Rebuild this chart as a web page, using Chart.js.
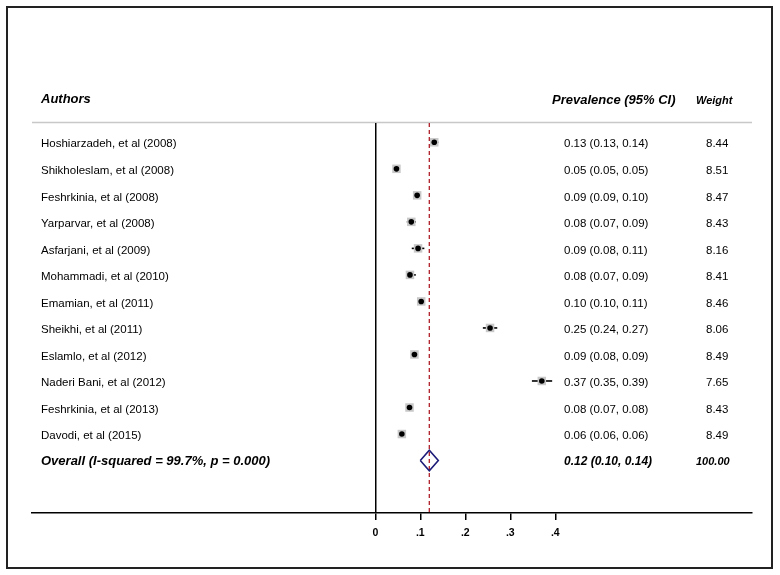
<!DOCTYPE html>
<html>
<head>
<meta charset="utf-8">
<script src="https://cdn.jsdelivr.net/npm/chart.js@4.4.1/dist/chart.umd.min.js"></script>
<style>
  html, body { margin: 0; padding: 0; background: #fff; }
  canvas { display: block; }
</style>
</head>
<body>
<canvas id="forestChart" width="780" height="575"></canvas>
<script>
// studies, top to bottom
const authors = [
    'Hoshiarzadeh, et al (2008)',
    'Shikholeslam, et al (2008)',
    'Feshrkinia, et al (2008)',
    'Yarparvar, et al (2008)',
    'Asfarjani, et al (2009)',
    'Mohammadi, et al (2010)',
    'Emamian, et al (2011)',
    'Sheikhi, et al (2011)',
    'Eslamlo, et al (2012)',
    'Naderi Bani, et al (2012)',
    'Feshrkinia, et al (2013)',
    'Davodi, et al (2015)'
];
const prevalence = [0.131, 0.047, 0.093, 0.080, 0.095, 0.077, 0.102, 0.255, 0.087, 0.370, 0.076, 0.059];
const ciLow = [0.13, 0.05, 0.09, 0.07, 0.081, 0.07, 0.10, 0.239, 0.08, 0.348, 0.07, 0.06];
const ciHigh = [0.14, 0.05, 0.10, 0.09, 0.109, 0.09, 0.11, 0.271, 0.09, 0.393, 0.08, 0.06];
const ciText = [
    '0.13 (0.13, 0.14)', '0.05 (0.05, 0.05)', '0.09 (0.09, 0.10)', '0.08 (0.07, 0.09)',
    '0.09 (0.08, 0.11)', '0.08 (0.07, 0.09)', '0.10 (0.10, 0.11)', '0.25 (0.24, 0.27)',
    '0.09 (0.08, 0.09)', '0.37 (0.35, 0.39)', '0.08 (0.07, 0.08)', '0.06 (0.06, 0.06)'
];
const weights = ['8.44', '8.51', '8.47', '8.43', '8.16', '8.41', '8.46', '8.06', '8.49', '7.65', '8.43', '8.49'];

// pooled estimate
const overallLabel = 'Overall (I-squared = 99.7%, p = 0.000)';
const overallEst = 0.12;
const overallLow = 0.10;
const overallHigh = 0.14;
const overallText = '0.12 (0.10, 0.14)';
const overallWeight = '100.00';

const tickValues = [0, 0.1, 0.2, 0.3, 0.4];

const overallRow = authors.length + 1;
const yMin = 0.272;
const yMax = 14.978;

const studyPoints = prevalence.map((v, i) => ({ x: v, y: i + 1 }));

const ciDatasets = authors.map((a, i) => ({
    type: 'line',
    data: [{ x: ciLow[i], y: i + 1 }, { x: ciHigh[i], y: i + 1 }],
    borderColor: '#000',
    borderWidth: 1.6,
    pointRadius: 0,
    order: 5
}));

const diamond = [
    { x: overallLow, y: overallRow },
    { x: overallEst, y: overallRow - 0.39 },
    { x: overallHigh, y: overallRow },
    { x: overallEst, y: overallRow + 0.39 },
    { x: overallLow, y: overallRow }
];

// text columns, border and header rule
const tablePlugin = {
    id: 'tablePlugin',
    beforeDraw(chart) {
        const ctx = chart.ctx;
        ctx.save();
        ctx.strokeStyle = '#222';
        ctx.lineWidth = 2;
        ctx.strokeRect(7, 7, 765, 561);
        ctx.strokeStyle = '#c8c8c8';
        ctx.lineWidth = 1.5;
        ctx.beginPath();
        ctx.moveTo(32, 122.5);
        ctx.lineTo(752, 122.5);
        ctx.stroke();
        ctx.restore();
    },
    afterDraw(chart) {
        const ctx = chart.ctx;
        const y = chart.scales.y;
        ctx.save();
        ctx.fillStyle = '#000';
        ctx.textBaseline = 'middle';
        ctx.textAlign = 'left';

        ctx.font = 'italic bold 13px "Liberation Sans", Arial, sans-serif';
        ctx.fillText('Authors', 41, 99);
        ctx.fillText('Prevalence (95% CI)', 552, 100);
        ctx.font = 'italic bold 11px "Liberation Sans", Arial, sans-serif';
        ctx.fillText('Weight', 696, 101);

        ctx.font = '11.5px "Liberation Sans", Arial, sans-serif';
        authors.forEach((a, i) => {
            const py = y.getPixelForValue(i + 1) + 2;
            ctx.fillText(a, 41, py);
            ctx.fillText(ciText[i], 564, py);
            ctx.fillText(weights[i], 706, py);
        });

        const oy = y.getPixelForValue(overallRow) + 1;
        ctx.font = 'italic bold 13px "Liberation Sans", Arial, sans-serif';
        ctx.fillText(overallLabel, 41, oy);
        ctx.font = 'italic bold 12px "Liberation Sans", Arial, sans-serif';
        ctx.fillText(overallText, 564, oy);
        ctx.font = 'italic bold 11px "Liberation Sans", Arial, sans-serif';
        ctx.fillText(overallWeight, 696, oy);
        ctx.restore();
    }
};

new Chart(document.getElementById('forestChart'), {
    type: 'scatter',
    data: {
        datasets: [
            {
                data: studyPoints,
                pointStyle: 'circle',
                pointRadius: 2.8,
                backgroundColor: '#000',
                borderWidth: 0,
                order: 1
            },
            {
                data: studyPoints,
                pointStyle: 'rect',
                pointRadius: 6,
                backgroundColor: '#c8c8c8',
                borderWidth: 0,
                order: 3
            },
            ...ciDatasets,
            {
                type: 'line',
                data: diamond,
                borderColor: '#1c1c78',
                borderWidth: 1.6,
                pointRadius: 0,
                tension: 0,
                order: 2
            },
            {
                type: 'line',
                data: [{ x: overallEst, y: yMin }, { x: overallEst, y: yMax }],
                borderColor: '#b0202a',
                borderWidth: 1.3,
                borderDash: [4, 3],
                pointRadius: 0,
                order: 4
            }
        ]
    },
    options: {
        responsive: false,
        animation: false,
        layout: { padding: { left: 32, right: 28, top: 123, bottom: 22 } },
        plugins: {
            legend: { display: false },
            tooltip: { enabled: false }
        },
        scales: {
            x: {
                type: 'linear',
                min: -0.7629,
                max: 0.8371,
                afterBuildTicks: (scale) => {
                    scale.ticks = tickValues.map(v => ({ value: v }));
                },
                afterFit: (scale) => {
                    scale.height = 40;
                },
                grid: {
                    color: (c) => (c.tick && c.tick.value === 0 ? '#000' : 'rgba(0,0,0,0)'),
                    lineWidth: 1.5,
                    tickColor: '#000',
                    tickLength: 7
                },
                border: { display: true, color: '#000', width: 1.5 },
                ticks: {
                    color: '#000',
                    padding: 7,
                    maxRotation: 0,
                    font: { family: '"Liberation Sans", Arial, sans-serif', size: 10.5, weight: 'bold' },
                    callback: (v) => (v === 0 ? '0' : String(Math.round(v * 10) / 10).replace('0.', '.'))
                }
            },
            y: {
                type: 'linear',
                display: false,
                reverse: true,
                min: yMin,
                max: yMax
            }
        }
    },
    plugins: [tablePlugin]
});
</script>
</body>
</html>
